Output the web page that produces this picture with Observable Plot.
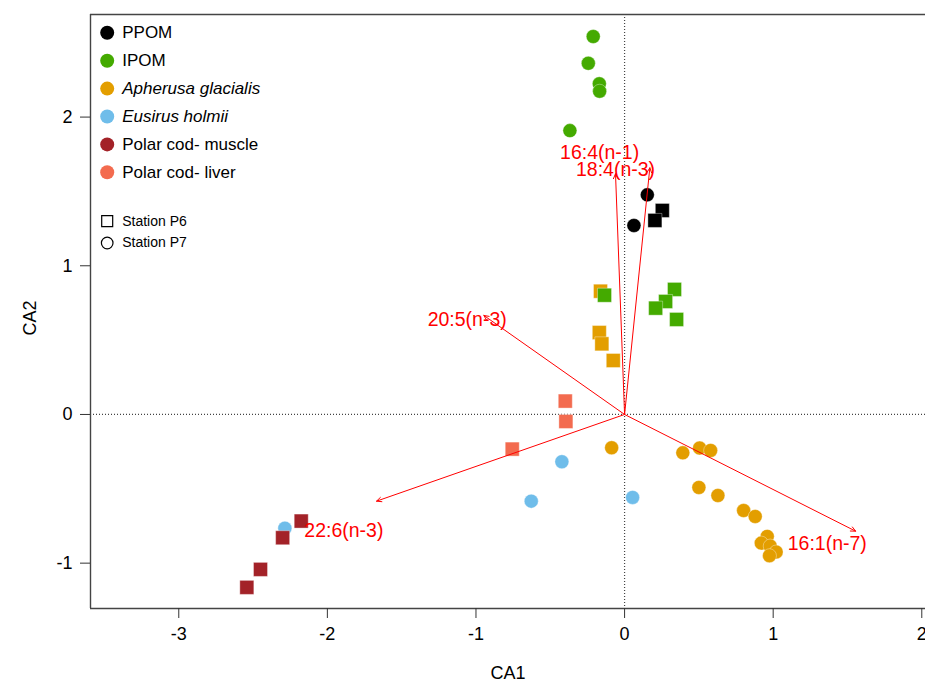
<!DOCTYPE html>
<html><head><meta charset="utf-8">
<script src="https://cdn.jsdelivr.net/npm/d3@7"></script>
<script src="https://cdn.jsdelivr.net/npm/@observablehq/plot@0.6"></script>
<style>body{margin:0;background:#fff;}</style>
</head><body><div id="chart"></div>
<script>
// Groups and colours
const groups = ["PPOM", "IPOM", "Apherusa glacialis", "Eusirus holmii", "Polar cod- muscle", "Polar cod- liver"];
const groupColors = ["#000000", "#44AA00", "#E39E00", "#6FBDEA", "#A32228", "#F36B4F"];
const groupItalic = [false, false, true, true, false, false];
const stations = ["Station P6", "Station P7"];

// Samples (CA scores)
const sampleGroup = [
  "PPOM","PPOM","PPOM","PPOM",
  "IPOM","IPOM","IPOM","IPOM","IPOM",
  "IPOM","IPOM","IPOM","IPOM","IPOM",
  "Apherusa glacialis","Apherusa glacialis","Apherusa glacialis","Apherusa glacialis",
  "Apherusa glacialis","Apherusa glacialis","Apherusa glacialis","Apherusa glacialis","Apherusa glacialis",
  "Apherusa glacialis","Apherusa glacialis","Apherusa glacialis","Apherusa glacialis","Apherusa glacialis",
  "Apherusa glacialis","Apherusa glacialis","Apherusa glacialis",
  "Eusirus holmii","Eusirus holmii","Eusirus holmii","Eusirus holmii",
  "Polar cod- muscle","Polar cod- muscle","Polar cod- muscle","Polar cod- muscle",
  "Polar cod- liver","Polar cod- liver","Polar cod- liver"
];
const sampleStation = [
  "P7","P7","P6","P6",
  "P7","P7","P7","P7","P7",
  "P6","P6","P6","P6","P6",
  "P6","P6","P6","P6",
  "P7","P7","P7","P7","P7",
  "P7","P7","P7","P7","P7",
  "P7","P7","P7",
  "P7","P7","P7","P7",
  "P6","P6","P6","P6",
  "P6","P6","P6"
];
const ca1 = [
  0.153, 0.063, 0.254, 0.204,
  -0.211, -0.244, -0.170, -0.168, -0.368,
  -0.135, 0.336, 0.276, 0.209, 0.350,
  -0.162, -0.170, -0.153, -0.076,
  -0.087, 0.392, 0.505, 0.579, 0.500,
  0.628, 0.801, 0.879, 0.960, 0.920,
  0.980, 1.020, 0.975,
  -0.422, -0.628, 0.054, -2.286,
  -2.176, -2.301, -2.450, -2.542,
  -0.399, -0.395, -0.756
];
const ca2 = [
  1.477, 1.271, 1.372, 1.305,
  2.542, 2.362, 2.224, 2.174, 1.909,
  0.802, 0.841, 0.760, 0.715, 0.639,
  0.829, 0.551, 0.475, 0.363,
  -0.224, -0.258, -0.226, -0.242, -0.491,
  -0.545, -0.646, -0.686, -0.820, -0.865,
  -0.885, -0.925, -0.950,
  -0.318, -0.583, -0.558, -0.765,
  -0.717, -0.829, -1.042, -1.163,
  0.090, -0.047, -0.233
];

// Fatty-acid vectors
const faNames = ["16:4(n-1)", "18:4(n-3)", "20:5(n-3)", "22:6(n-3)", "16:1(n-7)"];
const faX = [-0.061, 0.170, -0.947, -1.669, 1.555];
const faY = [1.619, 1.659, 0.666, -0.583, -0.785];
const faLabelX = [-0.168, -0.061, -1.059, -1.889, 1.364];
const faLabelY = [1.757, 1.646, 0.637, -0.780, -0.870];

// Axes
const xDomain = [-3.594, 2.025];
const yDomain = [-1.305, 2.69];
const xTicks = [-3, -2, -1, 0, 1, 2];
const yTicks = [-1, 0, 1, 2];

const samples = ca1.map((x, i) => ({x, y: ca2[i], group: sampleGroup[i], station: sampleStation[i]}));
const vectors = faNames.map((n, i) => ({name: n, x: faX[i], y: faY[i], lx: faLabelX[i], ly: faLabelY[i]}));
const drawOrder = ["Apherusa glacialis", "Eusirus holmii", "PPOM", "IPOM", "Polar cod- muscle", "Polar cod- liver"];
const ordered = drawOrder.flatMap(g => samples.filter(d => d.group === g));

const font = "'Liberation Sans', Arial, Helvetica, sans-serif";

const legendMarks = groups.flatMap((g, i) => [
  Plot.dot([0], {frameAnchor: "top-left", dx: 16.7, dy: 18.3 + 27.9 * i, r: 7, fill: groupColors[i]}),
  Plot.text([g], {frameAnchor: "top-left", dx: 31.7, dy: 18.3 + 27.9 * i, text: d => d, textAnchor: "start", lineAnchor: "middle",
    fontSize: 17, fill: "#000", fontStyle: groupItalic[i] ? "italic" : "normal"})
]);
const stationMarks = [
  Plot.dot([0], {frameAnchor: "top-left", dx: 16.7, dy: 206.7, symbol: "square", r: 6.2, fill: "none", stroke: "#000", strokeWidth: 1.2}),
  Plot.text([stations[0]], {frameAnchor: "top-left", dx: 31.7, dy: 206.7, text: d => d, textAnchor: "start", lineAnchor: "middle", fontSize: 14, fill: "#000"}),
  Plot.dot([0], {frameAnchor: "top-left", dx: 16.7, dy: 228.5, symbol: "circle", r: 5.8, fill: "none", stroke: "#000", strokeWidth: 1.2}),
  Plot.text([stations[1]], {frameAnchor: "top-left", dx: 31.7, dy: 228.5, text: d => d, textAnchor: "start", lineAnchor: "middle", fontSize: 14, fill: "#000"})
];

const chart = Plot.plot({
  width: 925,
  height: 684,
  marginLeft: 90,
  marginTop: 14,
  marginBottom: 76,
  marginRight: 0,
  style: {fontFamily: font, background: "#fff", color: "#000"},
  x: {domain: xDomain},
  y: {domain: yDomain},
  color: {domain: groups, range: groupColors},
  marks: [
    Plot.ruleX([0], {stroke: "#444", strokeWidth: 1.2, strokeDasharray: "1,2"}),
    Plot.ruleY([0], {stroke: "#444", strokeWidth: 1.2, strokeDasharray: "1,2"}),
    Plot.dot(ordered.filter(d => d.station === "P7"), {x: "x", y: "y", fill: "group", r: 7, symbol: "circle", stroke: "#fff", strokeWidth: 0.6, strokeOpacity: 0.6}),
    Plot.dot(ordered.filter(d => d.station === "P6"), {x: "x", y: "y", fill: "group", r: 7.9, symbol: "square", stroke: "#fff", strokeWidth: 0.6, strokeOpacity: 0.6}),
    Plot.arrow(vectors, {x1: () => 0, y1: () => 0, x2: "x", y2: "y", stroke: "#FF0000", strokeWidth: 1, headLength: 8, headAngle: 50}),
    Plot.text(vectors, {x: "lx", y: "ly", text: "name", fill: "#FF0000", fontSize: 19.5}),
    Plot.ruleX([xDomain[0]], {stroke: "#444", strokeWidth: 1.4}),
    Plot.ruleY([yDomain[0], yDomain[1]], {stroke: "#444", strokeWidth: 1.4}),
    Plot.axisX({ticks: xTicks, tickSize: 10, tickPadding: 9, fontSize: 18, label: null, stroke: "#333", tickFormat: d => String(d)}),
    Plot.axisY({ticks: yTicks, tickSize: 10, tickPadding: 8, fontSize: 18, label: null, stroke: "#333", tickFormat: d => String(d)}),
    Plot.text(["CA1"], {frameAnchor: "bottom", dy: 65, lineAnchor: "middle", text: d => d, fontSize: 18, fill: "#000"}),
    Plot.text(["CA2"], {frameAnchor: "left", dx: -60, dy: 24, lineAnchor: "middle", rotate: -90, text: d => d, fontSize: 18, fill: "#000"}),
    ...legendMarks,
    ...stationMarks
  ]
});
document.getElementById("chart").appendChild(chart);
</script>
</body></html>
